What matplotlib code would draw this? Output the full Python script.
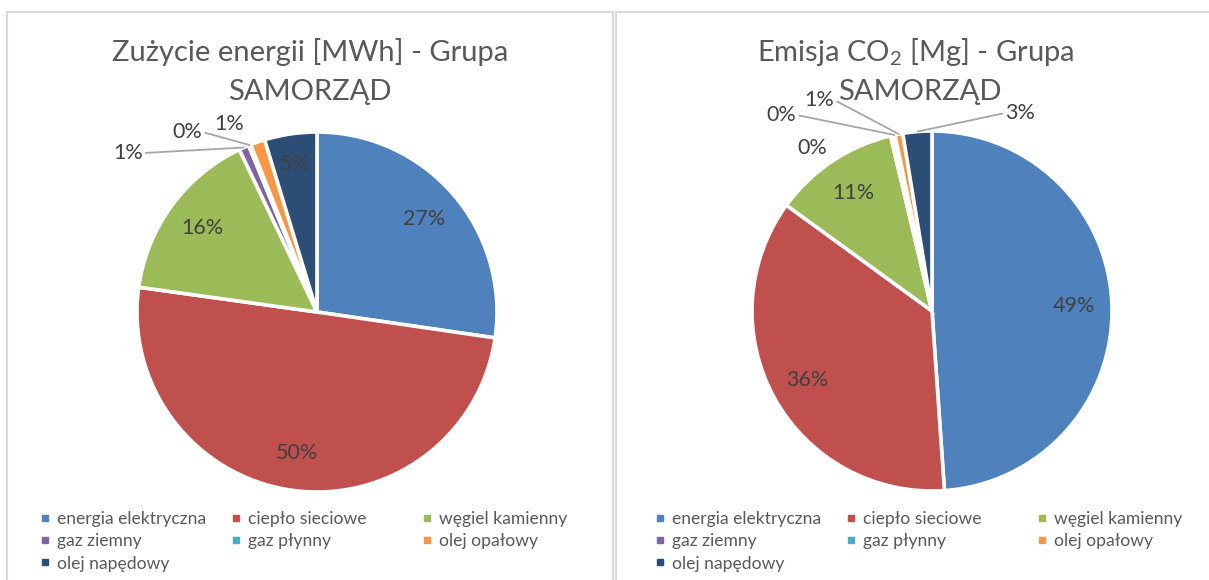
import numpy as np
import matplotlib
matplotlib.use('Agg')
import matplotlib.pyplot as plt
from matplotlib.lines import Line2D
from matplotlib.patches import Rectangle

plt.rcParams['font.family'] = ['Lato', 'DejaVu Sans']
plt.rcParams['mathtext.fontset'] = 'custom'
plt.rcParams['mathtext.rm'] = 'Lato'

# data
categories = ['energia elektryczna', 'ciepło sieciowe', 'węgiel kamienny',
              'gaz ziemny', 'gaz płynny', 'olej opałowy', 'olej napędowy']
energy_share = [27.3, 49.9, 15.7, 0.9, 0.2, 1.3, 4.7]
co2_share = [48.9, 36.1, 11.3, 0.3, 0.1, 0.7, 2.6]
colors = ['#4F81BD', '#C0504D', '#9BBB59', '#8064A2', '#4BACC6', '#F79646', '#2C4D75']

W, H = 1209, 580
fig = plt.figure(figsize=(W / 100, H / 100), dpi=100)

TITLE_C = '#595959'
LABEL_C = '#404040'
LINE_C = '#A6A6A6'
PCT_SIZE = 15.5

# panel borders (Excel chart areas)
for x0, x1 in [(7, 613), (616, 1240)]:
    fig.patches.append(Rectangle((x0 / W, -0.1), (x1 - x0) / W, (H - 12) / H + 0.1,
                                 transform=fig.transFigure, fill=False,
                                 edgecolor='#D9D9D9', linewidth=1.6))


def draw_pie(vals, cx, cy, r, small):
    ax = fig.add_axes([(cx - r) / W, (H - cy - r) / H, 2 * r / W, 2 * r / H])
    wedges, _ = ax.pie(vals, colors=colors, startangle=90, counterclock=False,
                       wedgeprops=dict(edgecolor='white', linewidth=2.6))
    ax.set_xlim(-1, 1)
    ax.set_ylim(-1, 1)
    ax.axis('off')
    total = sum(vals)
    for i, w in enumerate(wedges):
        txt = f"{round(vals[i] / total * 100):.0f}%"
        mid = np.deg2rad((w.theta1 + w.theta2) / 2)
        if i in small:
            tx, ty, leader, side = small[i]
            if leader:
                ax.annotate(txt, xy=(np.cos(mid), np.sin(mid)), xytext=(tx, ty),
                            ha='center', va='center', fontsize=PCT_SIZE, color=LABEL_C,
                            arrowprops=dict(arrowstyle='-', color=LINE_C, lw=1.3,
                                            shrinkA=0, shrinkB=0, relpos=(side, 0.5)))
            else:
                ax.text(tx, ty, txt, ha='center', va='center', fontsize=PCT_SIZE, color=LABEL_C)
        else:
            d = 0.83 if vals[i] / total < 0.1 else 0.79
            ax.text(d * np.cos(mid), d * np.sin(mid), txt, ha='center', va='center',
                    fontsize=PCT_SIZE, color=LABEL_C)
    return ax


draw_pie(energy_share, 317, 312, 180,
         {3: (-1.05, 0.883, True, 1), 4: (-0.72, 1.0, True, 1), 5: (-0.49, 1.045, False, 0)})
draw_pie(co2_share, 932, 311, 180,
         {3: (-0.667, 0.906, False, 0), 4: (-0.835, 1.089, True, 1),
          5: (-0.625, 1.172, True, 1), 6: (0.489, 1.1, True, 0)})

# titles
fig.text(310 / W, 1 - 52 / H, 'Zużycie energii [MWh] - Grupa', ha='center', va='center',
         fontsize=21, color=TITLE_C)
fig.text(310 / W, 1 - 92 / H, 'SAMORZĄD', ha='center', va='center', fontsize=21, color=TITLE_C)
fig.text(916 / W, 1 - 52 / H, r'Emisja CO$_{\mathregular{2}}$ [Mg] - Grupa', ha='center',
         va='center', fontsize=21, color=TITLE_C)
fig.text(920 / W, 1 - 92 / H, 'SAMORZĄD', ha='center', va='center', fontsize=21, color=TITLE_C)

# legends, three columns per panel, filled row by row
for xs in [(40, 231, 422), (655, 846, 1037)]:
    for c, x in enumerate(xs):
        idx = list(range(c, len(categories), 3))
        handles = [Line2D([], [], marker='s', linestyle='', markersize=5,
                          color=colors[i]) for i in idx]
        leg = fig.legend(handles, [categories[i] for i in idx], loc='upper left',
                         bbox_to_anchor=(x / W, 1 - 511 / H), frameon=False,
                         fontsize=12.6, handlelength=0.55, handletextpad=0.42,
                         labelspacing=0.36, borderpad=0, borderaxespad=0)
        for t in leg.get_texts():
            t.set_color(TITLE_C)

fig.savefig('out.png', dpi=100)
